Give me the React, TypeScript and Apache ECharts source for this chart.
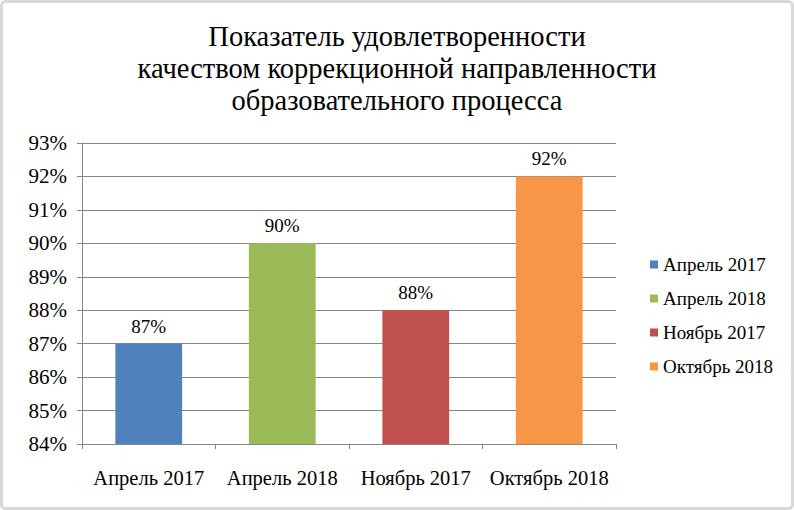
import React, { useEffect, useRef } from "react";
import * as echarts from "echarts";

const categories = ["Апрель 2017", "Апрель 2018", "Ноябрь 2017", "Октябрь 2018"];
const values = [87, 90, 88, 92];
const colors = ["#4F81BD", "#9BBB59", "#C0504D", "#F79646"];
const yMin = 84;
const yMax = 93;
const titleText = "Показатель удовлетворенности\nкачеством коррекционной направленности\nобразовательного процесса";

const FONT = "Times New Roman, Liberation Serif, serif";

export default function App() {
  const ref = useRef<HTMLDivElement>(null);
  useEffect(() => {
    if (!ref.current) return;
    const chart = echarts.init(ref.current, undefined, { renderer: "svg" });
    const series = categories.map((name, i) => ({
      name,
      type: "bar" as const,
      barWidth: "50%",
      barGap: "-100%",
      itemStyle: { color: colors[i] },
      data: categories.map((_, j) => (j === i ? values[i] : "-")),
      label: {
        show: true,
        position: "top" as const,
        distance: 8,
        formatter: "{c}%",
        color: "#000",
        fontFamily: FONT,
        fontSize: 19,
      },
    }));
    chart.setOption({
      animation: false,
      backgroundColor: "#fff",
      textStyle: { fontFamily: FONT },
      title: {
        text: titleText,
        left: "center",
        top: 15,
        textStyle: {
          fontFamily: FONT,
          fontSize: 28.5,
          fontWeight: "normal",
          color: "#000",
          lineHeight: 32,
        },
      },
      graphic: [
        {
          type: "rect",
          shape: { x: 1.5, y: 1.5, width: 791, height: 507, r: 4 },
          style: { fill: "none", stroke: "#d9d9d9", lineWidth: 3 },
          silent: true,
        },
      ],
      legend: {
        orient: "vertical",
        left: 650,
        top: 255,
        padding: 0,
        itemWidth: 8,
        itemHeight: 8,
        itemGap: 15,
        icon: "rect",
        textStyle: { fontFamily: FONT, fontSize: 19, color: "#000" },
        data: categories,
      },
      grid: { left: 82, right: 178, top: 143, bottom: 66, containLabel: false },
      xAxis: {
        type: "category",
        data: categories,
        axisLine: { lineStyle: { color: "#868686", width: 1 } },
        axisTick: { show: true, length: 5, lineStyle: { color: "#868686" } },
        axisLabel: { color: "#000", fontFamily: FONT, fontSize: 20.5, margin: 23, interval: 0 },
      },
      yAxis: {
        type: "value",
        min: yMin,
        max: yMax,
        interval: 1,
        axisLine: { show: true, lineStyle: { color: "#868686", width: 1 } },
        axisTick: { show: true, length: 5, lineStyle: { color: "#868686" } },
        splitLine: { show: true, lineStyle: { color: "#868686", width: 1 } },
        axisLabel: { formatter: "{value}%", color: "#000", fontFamily: FONT, fontSize: 21, margin: 15 },
      },
      series,
    });
    return () => chart.dispose();
  }, []);
  return <div ref={ref} style={{ position: "fixed", left: 0, top: 0, width: 794, height: 510 }} />;
}
